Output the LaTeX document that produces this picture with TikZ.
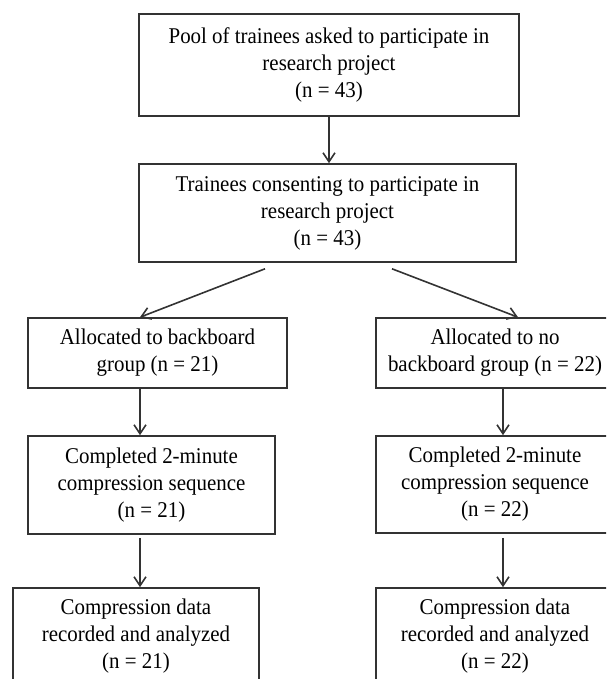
\documentclass[tikz,border=0pt]{standalone}
\usepackage{fontspec}
\setmainfont{Liberation Serif}[FakeStretch=0.93]
\usetikzlibrary{arrows.meta}
\definecolor{linegray}{HTML}{333333}
\tikzset{
  box/.style={draw=linegray, line width=1.6pt, rectangle, align=center, inner sep=0pt,
    font=\fontsize{22.5}{27}\selectfont, text=black},
  arr/.style={draw=linegray, line width=1.6pt, -{Straight Barb[length=9pt,width=12pt]}},
}
\begin{document}
\begin{tikzpicture}[x=1pt,y=1pt]
\path[use as bounding box, clip] (0,0) rectangle (606,-679);
% boxes
\node[box, minimum width=380pt, minimum height=102pt] (b1) at (329,-65)
  {Pool of trainees asked to participate in\\research project\\(n = 43)};
\node[box, minimum width=377pt, minimum height=98pt] (b2) at (327.5,-213)
  {Trainees consenting to participate in\\research project\\(n = 43)};
\node[box, minimum width=259pt, minimum height=70pt] (b3l) at (157.5,-353)
  {Allocated to backboard\\group (n = 21)};
\node[box, minimum width=238pt, minimum height=70pt] (b3r) at (495,-353)
  {Allocated to no\\backboard group (n = 22)};
\node[box, minimum width=247pt, minimum height=98pt] (b4l) at (151.5,-485)
  {Completed 2-minute\\compression sequence\\(n = 21)};
\node[box, minimum width=238pt, minimum height=97pt] (b4r) at (495,-484.5)
  {Completed 2-minute\\compression sequence\\(n = 22)};
\node[box, minimum width=246pt, minimum height=96pt] (b5l) at (136,-636)
  {Compression data\\recorded and analyzed\\(n = 21)};
\node[box, minimum width=238pt, minimum height=96pt] (b5r) at (495,-636)
  {Compression data\\recorded and analyzed\\(n = 22)};
% connectors
\draw[arr] (b1.south) -- (b1.south |- b2.north);
\draw[arr] ([xshift=-62.5pt,yshift=-6pt]b2.south) -- ([xshift=-17.5pt]b3l.north);
\draw[arr] ([xshift=64.5pt,yshift=-6pt]b2.south) -- ([xshift=23pt]b3r.north);
\draw[arr] ([xshift=-17.5pt]b3l.south) -- ([xshift=-17.5pt]b3l.south |- b4l.north);
\draw[arr] ([xshift=-11.5pt,yshift=-3pt]b4l.south) -- ([xshift=-11.5pt]b4l.south |- b5l.north);
\draw[arr] ([xshift=8pt]b3r.south) -- ([xshift=8pt]b3r.south |- b4r.north);
\draw[arr] ([xshift=8pt,yshift=-4pt]b4r.south) -- ([xshift=8pt]b4r.south |- b5r.north);
\end{tikzpicture}
\end{document}
